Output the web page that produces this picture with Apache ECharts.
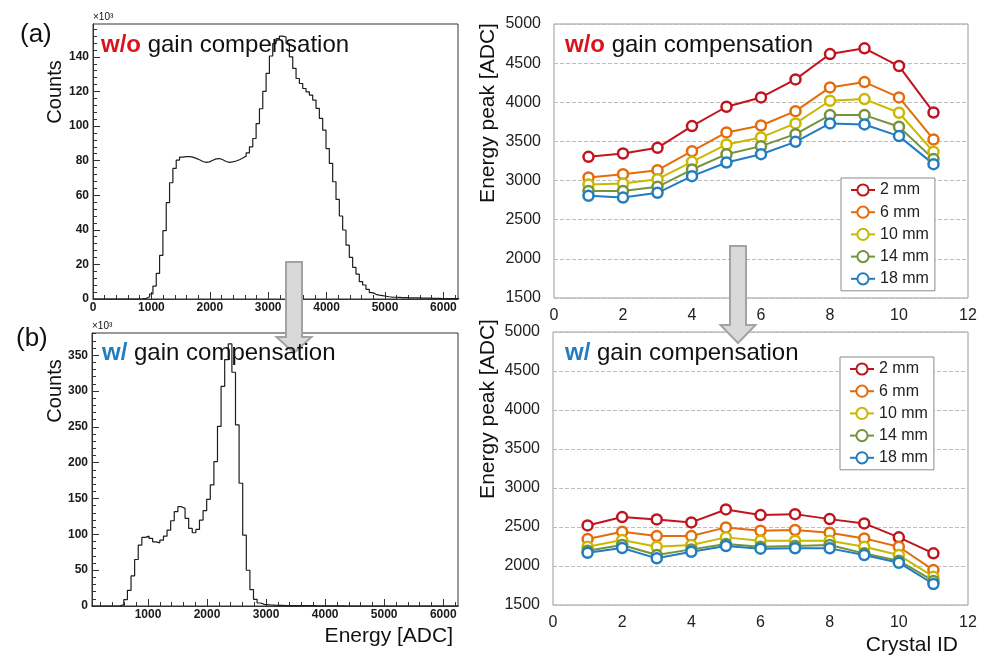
<!DOCTYPE html>
<html><head><meta charset="utf-8">
<script src="https://cdn.jsdelivr.net/npm/echarts@6/dist/echarts.min.js"></script>
<style>html,body{margin:0;padding:0;background:#fff}#c{width:996px;height:668px}</style>
</head><body><div id="c"></div>
<script>
const FONT = '"Liberation Sans", Arial, Helvetica, sans-serif';

// ---------- (a) histogram, without gain compensation (counts in 10^3) ----------
const topHistStart = 0;
const topHistBinWidth = 57;
const topHistCounts = [
  0,0,0,0,0,0,0,0,0,0,0,0,0,0,
  0.1,0.4,1.3,2.9,7.5,14.8,25.2,39.5,55.7,67.2,75.5,80.3,
  82.0,82.3,82.3,82.0,81.3,80.5,79.5,79.0,79.3,80.2,81.0,81.2,80.5,79.5,
  79.0,79.3,79.8,80.5,81.5,82.6,84.5,88.0,92.8,101.4,110.0,120.0,130.5,140.5,
  147.7,150.5,152.0,151.5,147.7,140.0,133.3,127.5,124.6,121.7,119.8,117.9,115.0,110.2,
  104.4,97.6,87.0,78.4,67.8,57.6,48.0,39.9,31.2,24.1,18.3,14.4,10.0,8.1,
  5.6,3.7,2.7,2.2,1.9,1.6,1.3,1.1,1.0,0.9,0.8,0.8,0.7,0.7,0.6,0.6,
  0.5,0.5,0.5,0.4,0.4,0.4,0.3,0.3,0.3,0.3,0.2,0.2
];
// ---------- (b) histogram, with gain compensation (counts in 10^3) ----------
const botHistStart = 42;
const botHistBinWidth = 61;
const botHistCounts = [
  0,0,0,0,0,0,0,0.3,
  1.9,8.9,21.9,42.0,64.9,85.0,95.7,97.5,94.3,89.6,88.2,91.9,
  97.5,106.0,119.0,131.6,138.6,136.3,122.3,108.3,102.2,106.9,119.9,133.0,
  148.9,169.0,201.6,250.6,306.6,343.9,365.8,326.2,252.9,171.3,98.9,49.9,
  22.9,9.3,4.2,2.3,1.8,1.4,1.1,0.9,0.8,0.7,0.6,0.6,0.5,0.5,0.5,0.4,
  0.4,0.4,0.3,0.3,0.3,0.2,0.1,0.1,0.1,0.1,0,0,0,0,0,0,0,0,0,0,
  0,0,0,0,0,0,0,0,0,0,0,0,0,0,0,0,0,0,0,0,0,0
];
const topHistXLabels = [0,1000,2000,3000,4000,5000,6000];
const botHistXLabels = [1000,2000,3000,4000,5000,6000];
const topHistYLabels = [0,20,40,60,80,100,120,140];
const botHistYLabels = [0,50,100,150,200,250,300,350];

// ---------- Energy peak vs crystal ID ----------
const crystalIds = [1,2,3,4,5,6,7,8,9,10,11];
const depthNames = ['2 mm','6 mm','10 mm','14 mm','18 mm'];
const peakWithout2mm  = [3303,3346,3418,3696,3943,4062,4292,4616,4689,4463,3870];
const peakWithout6mm  = [3039,3082,3133,3376,3615,3704,3887,4190,4258,4062,3525];
const peakWithout10mm = [2950,2962,3018,3239,3461,3551,3730,4020,4041,3866,3367];
const peakWithout14mm = [2868,2868,2920,3141,3337,3440,3593,3836,3836,3687,3274];
const peakWithout18mm = [2805,2783,2843,3056,3231,3337,3495,3730,3717,3568,3210];
const peakWith2mm  = [2520,2627,2597,2559,2725,2653,2665,2601,2546,2367,2162];
const peakWith6mm  = [2345,2439,2384,2384,2495,2452,2461,2426,2354,2247,1948];
const peakWith10mm = [2247,2332,2247,2269,2367,2324,2324,2324,2247,2140,1863];
const peakWith14mm = [2196,2269,2140,2213,2281,2247,2256,2269,2162,2068,1808];
const peakWith18mm = [2170,2230,2098,2183,2256,2222,2226,2226,2140,2042,1769];

const depthColors = ['#C0141E','#E46C0A','#C9B800','#76923C','#1F7DC0'];

function seq(a, b, s) { const r = []; for (let v = a; v <= b + 1e-9; v += s) r.push(v); return r; }
function stepPoints(start, w, counts) {
  const p = counts.map((c, i) => [start + i * w, c]);
  p.push([start + counts.length * w, counts[counts.length - 1]]);
  return p;
}
const fmt = v => String(v);
const histLabel = { fontFamily: FONT, fontSize: 12, fontWeight: 'bold', color: '#1a1a1a', formatter: fmt };

function histMajor(gridIndex, min, max, labels, pos, margin) {
  return {
    type: 'value', gridIndex, min, max, position: pos,
    axisLine: { show: true, onZero: false, lineStyle: { color: '#333', width: 1 } },
    axisTick: { show: true, inside: true, length: 7, customValues: labels, lineStyle: { color: '#333' } },
    axisLabel: Object.assign({ show: true, customValues: labels, margin }, histLabel),
    splitLine: { show: false }
  };
}
function histMinor(gridIndex, min, max, ticks, pos) {
  return {
    type: 'value', gridIndex, min, max, position: pos,
    axisLine: { show: false },
    axisTick: { show: true, inside: true, length: 4, customValues: ticks, lineStyle: { color: '#333' } },
    axisLabel: { show: false },
    splitLine: { show: false }
  };
}
function peakX(gridIndex) {
  return {
    type: 'value', gridIndex, min: 0, max: 12, interval: 2,
    axisLine: { show: false }, axisTick: { show: false },
    axisLabel: { fontFamily: FONT, fontSize: 16, color: '#222', margin: 10, formatter: fmt },
    splitLine: { show: false }
  };
}
function peakY(gridIndex) {
  return {
    type: 'value', gridIndex, min: 1500, max: 5000, interval: 500,
    axisLine: { show: false }, axisTick: { show: false },
    axisLabel: { fontFamily: FONT, fontSize: 16, color: '#222', margin: 13, formatter: fmt },
    splitLine: { show: true, lineStyle: { color: '#bdbdbd', type: 'dashed', width: 1 } }
  };
}

const withoutSets = [peakWithout2mm, peakWithout6mm, peakWithout10mm, peakWithout14mm, peakWithout18mm];
const withSets = [peakWith2mm, peakWith6mm, peakWith10mm, peakWith14mm, peakWith18mm];

function peakSeries(sets, axisIdx) {
  return sets.map((vals, k) => ({
    type: 'line', name: depthNames[k], xAxisIndex: axisIdx, yAxisIndex: axisIdx,
    data: crystalIds.map((x, i) => [x, vals[i]]),
    symbol: 'circle', symbolSize: 10,
    lineStyle: { color: depthColors[k], width: 2 },
    itemStyle: { color: '#ffffff', borderColor: depthColors[k], borderWidth: 2.5 },
    emphasis: { disabled: true }, animation: false, z: 3
  }));
}

const histLine = { color: '#1e1e1e', width: 1.2 };

function legendAt(left, top) {
  return {
    data: depthNames, orient: 'vertical', left, top,
    padding: [4, 6, 4, 9], borderColor: '#8a8a8a', borderWidth: 1, backgroundColor: '#fff',
    itemWidth: 24, itemHeight: 14, itemGap: 6.2, selectedMode: false,
    textStyle: { fontFamily: FONT, fontSize: 16, color: '#222', lineHeight: 16 }
  };
}

function titleText(x, y, prefix, prefixColor, rest) {
  return {
    type: 'text', x, y, z: 200,
    style: {
      text: '{p|' + prefix + '} ' + rest,
      fontFamily: FONT, fontSize: 24, fill: '#111', textVerticalAlign: 'middle',
      rich: { p: { fontFamily: FONT, fontSize: 24, fontWeight: 'bold', fill: prefixColor } }
    }
  };
}
function plainText(x, y, text, size, align, rot) {
  return {
    type: 'text', x, y, z: 200, rotation: rot || 0,
    style: { text, fontFamily: FONT, fontSize: size, fill: '#111', textAlign: align, textVerticalAlign: 'middle' }
  };
}
function arrow(cx, yTop, yHeadTop, yTip, shaftHalf, headHalf) {
  return {
    type: 'polygon', z: 150,
    shape: { points: [
      [cx - shaftHalf, yTop], [cx + shaftHalf, yTop], [cx + shaftHalf, yHeadTop],
      [cx + headHalf, yHeadTop], [cx, yTip], [cx - headHalf, yHeadTop], [cx - shaftHalf, yHeadTop]
    ] },
    style: { fill: '#d9d9d9', stroke: '#a3a3a3', lineWidth: 2 }
  };
}

const option = {
  animation: false,
  backgroundColor: '#ffffff',
  grid: [
    { left: 93, top: 24, width: 365, height: 275, show: true, borderColor: '#333', borderWidth: 1 },
    { left: 92, top: 333, width: 366, height: 273, show: true, borderColor: '#333', borderWidth: 1 },
    { left: 554, top: 24, width: 414, height: 274, show: true, borderColor: '#9a9a9a', borderWidth: 1 },
    { left: 553, top: 332, width: 415, height: 273, show: true, borderColor: '#9a9a9a', borderWidth: 1 }
  ],
  xAxis: [
    histMajor(0, 0, 6250, topHistXLabels, 'bottom', 3),
    histMinor(0, 0, 6250, seq(200, 6200, 200), 'bottom'),
    histMajor(1, 52, 6250, botHistXLabels, 'bottom', 3),
    histMinor(1, 52, 6250, seq(200, 6200, 200), 'bottom'),
    peakX(2),
    peakX(3)
  ],
  yAxis: [
    histMajor(0, 0, 159, topHistYLabels, 'left', 4),
    histMinor(0, 0, 159, seq(4, 156, 4), 'left'),
    histMajor(1, 0, 381, botHistYLabels, 'left', 4),
    histMinor(1, 0, 381, seq(10, 380, 10), 'left'),
    peakY(2),
    peakY(3)
  ],
  legend: [legendAt(841, 178), legendAt(840, 357)],
  series: [
    { type: 'line', xAxisIndex: 0, yAxisIndex: 0, step: 'end', symbol: 'none',
      data: stepPoints(topHistStart, topHistBinWidth, topHistCounts), lineStyle: histLine,
      emphasis: { disabled: true }, clip: true },
    { type: 'line', xAxisIndex: 2, yAxisIndex: 2, step: 'end', symbol: 'none',
      data: stepPoints(botHistStart, botHistBinWidth, botHistCounts), lineStyle: histLine,
      emphasis: { disabled: true }, clip: true }
  ].concat(peakSeries(withoutSets, 4), peakSeries(withSets, 5)),
  graphic: [
    arrow(294, 262, 337, 353, 8, 17.5),
    arrow(738, 246, 325, 343, 8, 17.5),
    plainText(20, 35, '(a)', 26, 'left'),
    plainText(16, 339, '(b)', 26, 'left'),
    plainText(55, 92, 'Counts', 20, 'center', Math.PI / 2),
    plainText(55, 391, 'Counts', 20, 'center', Math.PI / 2),
    plainText(488, 113, 'Energy peak [ADC]', 21, 'center', Math.PI / 2),
    plainText(488, 409, 'Energy peak [ADC]', 21, 'center', Math.PI / 2),
    plainText(453, 636, 'Energy [ADC]', 21, 'right'),
    plainText(958, 645, 'Crystal ID', 21, 'right'),
    plainText(93, 17, '×10³', 10, 'left'),
    plainText(92, 326, '×10³', 10, 'left'),
    titleText(101, 45, 'w/o', '#D7141E', 'gain compensation'),
    titleText(565, 45, 'w/o', '#D7141E', 'gain compensation'),
    titleText(102, 353, 'w/', '#1F7DC0', 'gain compensation'),
    titleText(565, 353, 'w/', '#1F7DC0', 'gain compensation')
  ]
};

const chart = echarts.init(document.getElementById('c'), null, { renderer: 'canvas' });
chart.setOption(option);
</script>
</body></html>
